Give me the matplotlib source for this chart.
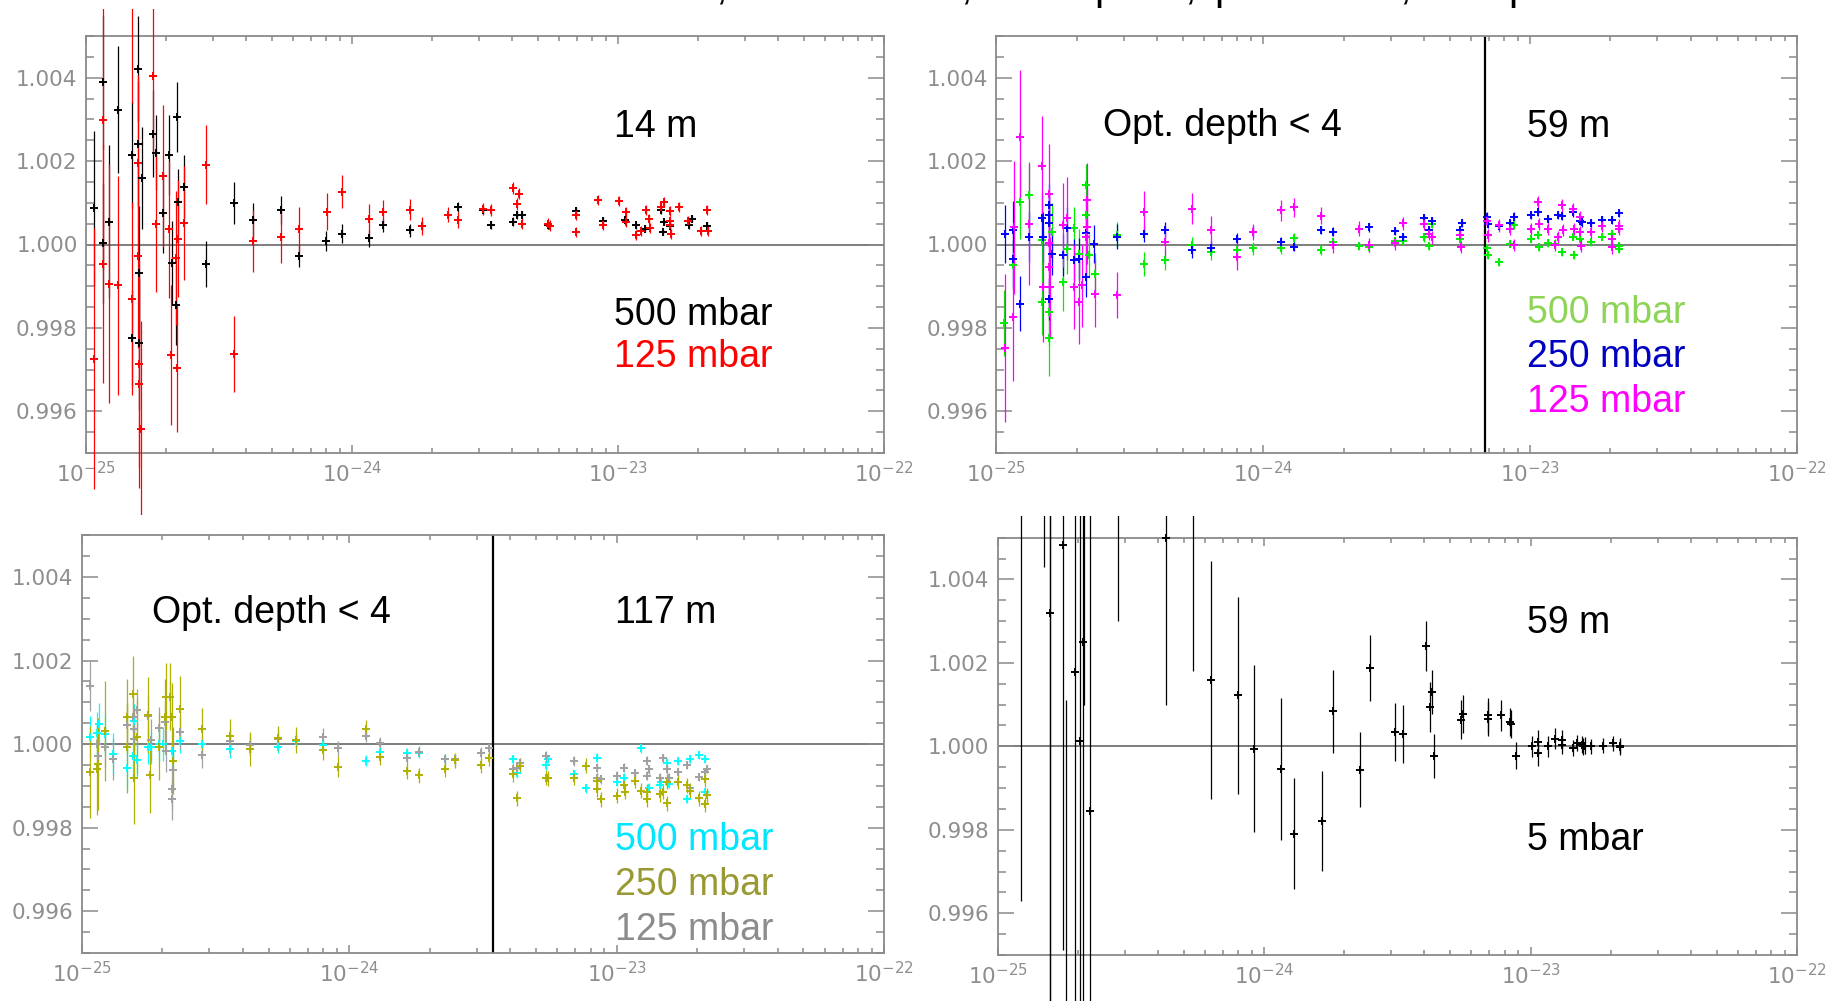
import numpy as np
import matplotlib
matplotlib.use('Agg')
import matplotlib.pyplot as plt
from matplotlib.patches import Rectangle
from matplotlib.ticker import LogLocator, MultipleLocator, FixedLocator, NullFormatter, FuncFormatter

plt.rcParams['font.family'] = ['Liberation Sans', 'DejaVu Sans']
plt.rcParams['mathtext.fontset'] = 'dejavusans'

# ---------------- data: (x, ratio, error) ----------------
p1_500 = [
    (1.075e-25, 1.00087, 0.00186), (1.155e-25, 1.00389, 0.0016), (1.16e-25, 1.00004, 0.00144),
    (1.224e-25, 1.00055, 0.00184), (1.323e-25, 1.00323, 0.00152), (1.485e-25, 1.00215, 0.00128),
    (1.485e-25, 0.99776, 0.00116), (1.564e-25, 1.00421, 0.00126), (1.57e-25, 1.00242, 0.0015),
    (1.586e-25, 0.99932, 0.0016), (1.586e-25, 0.99764, 0.0016), (1.62e-25, 1.00159, 0.00123),
    (1.781e-25, 1.00266, 0.00104), (1.833e-25, 1.0022, 0.0009), (1.953e-25, 1.00076, 0.00096),
    (2.046e-25, 1.00215, 0.00096), (2.10e-25, 0.99956, 0.001), (2.193e-25, 1.00306, 0.00083),
    (2.18e-25, 0.99854, 0.00096), (2.21e-25, 1.00102, 0.0008), (2.335e-25, 1.00139, 0.00076),
    (2.818e-25, 0.99954, 0.00055), (3.59e-25, 1.00099, 0.0005), (4.244e-25, 1.00059, 0.0004),
    (5.41e-25, 1.00083, 0.00034), (6.32e-25, 0.99972, 0.00027), (7.96e-25, 1.00009, 0.00024),
    (9.2e-25, 1.00026, 0.00022), (1.162e-24, 1.00015, 0.0002), (1.304e-24, 1.00046, 0.00015),
    (1.652e-24, 1.00034, 0.00016), (1.838e-24, 1.00044, 0.0001), (2.497e-24, 1.0009, 0.00012),
    (3.117e-24, 1.00082, 0.0001), (3.34e-24, 1.00047, 0.0001), (4.04e-24, 1.00055, 0.0001),
    (4.18e-24, 1.00071, 0.0001), (4.37e-24, 1.00071, 0.0001), (5.47e-24, 1.00047, 0.0001),
    (6.93e-24, 1.00081, 0.0001), (8.76e-24, 1.00056, 0.00009), (1.063e-23, 1.00058, 0.00009),
    (1.165e-23, 1.00046, 0.00009), (1.263e-23, 1.00038, 0.00009), (1.451e-23, 1.00082, 0.00008),
    (1.47e-23, 1.0003, 0.00008), (1.494e-23, 1.00054, 0.00008), (1.569e-23, 1.00045, 0.00008),
    (1.849e-23, 1.00046, 0.00008), (1.892e-23, 1.00062, 0.00008), (2.154e-23, 1.00045, 0.00008),
]
p1_125 = [
    (1.075e-25, 0.99726, 0.00313), (1.155e-25, 1.00299, 0.0036), (1.16e-25, 0.99954, 0.00287),
    (1.224e-25, 0.99906, 0.00286), (1.323e-25, 0.99902, 0.00262), (1.485e-25, 0.9987, 0.00232),
    (1.49e-25, 1.0062, 0.0028), (1.57e-25, 1.00196, 0.0021), (1.564e-25, 0.99972, 0.0022),
    (1.586e-25, 0.99713, 0.0025), (1.586e-25, 0.99665, 0.0025), (1.61e-25, 0.99557, 0.0026),
    (1.781e-25, 1.00403, 0.00187), (1.833e-25, 1.0005, 0.00164), (1.953e-25, 1.00164, 0.0017),
    (2.046e-25, 1.00036, 0.00164), (2.09e-25, 0.99735, 0.00167), (2.18e-25, 0.99968, 0.0016),
    (2.193e-25, 0.99703, 0.00152), (2.21e-25, 1.00014, 0.0014), (2.335e-25, 1.00052, 0.00136),
    (2.818e-25, 1.00191, 0.00095), (3.59e-25, 0.99738, 0.00091), (4.244e-25, 1.00008, 0.00075),
    (5.41e-25, 1.00018, 0.00063), (6.32e-25, 1.00036, 0.00055), (8.05e-25, 1.00079, 0.00045),
    (9.2e-25, 1.00127, 0.0004), (1.162e-24, 1.00061, 0.00036), (1.304e-24, 1.00079, 0.00028),
    (1.652e-24, 1.00083, 0.00025), (1.838e-24, 1.00045, 0.00022), (2.289e-24, 1.00071, 0.00018),
    (2.497e-24, 1.00059, 0.0002), (3.12e-24, 1.00085, 0.00014), (3.34e-24, 1.00083, 0.00014),
    (4.04e-24, 1.00135, 0.00014), (4.24e-24, 1.00122, 0.00014), (4.18e-24, 1.00097, 0.00014),
    (4.37e-24, 1.0005, 0.00014), (5.47e-24, 1.0005, 0.00013), (5.57e-24, 1.00045, 0.00013),
    (6.94e-24, 1.00071, 0.00013), (6.98e-24, 1.0003, 0.00013), (8.44e-24, 1.00107, 0.00012),
    (8.76e-24, 1.00046, 0.00012), (1.009e-23, 1.00105, 0.00012), (1.07e-23, 1.00077, 0.00012),
    (1.075e-23, 1.00053, 0.00012), (1.165e-23, 1.00023, 0.00012), (1.22e-23, 1.00032, 0.00012),
    (1.27e-23, 1.00083, 0.00012), (1.31e-23, 1.00061, 0.00012), (1.315e-23, 1.0004, 0.00012),
    (1.45e-23, 1.00091, 0.00012), (1.494e-23, 1.00101, 0.00012), (1.569e-23, 1.00081, 0.00012),
    (1.57e-23, 1.00057, 0.00012), (1.575e-23, 1.00046, 0.00012), (1.58e-23, 1.00024, 0.00012),
    (1.70e-23, 1.00089, 0.00012), (1.84e-23, 1.00057, 0.00012), (2.046e-23, 1.00033, 0.00012),
    (2.154e-23, 1.00083, 0.00012), (2.18e-23, 1.00033, 0.00012),
]

p2_500 = [
    (1.071e-25, 0.99812, 0.0008), (1.157e-25, 0.9995, 0.0006), (1.226e-25, 1.00103, 0.0009),
    (1.329e-25, 1.00119, 0.0008), (1.486e-25, 1.0001, 0.0007), (1.486e-25, 0.99863, 0.0008),
    (1.574e-25, 0.99837, 0.0008), (1.578e-25, 0.99775, 0.0009), (1.611e-25, 1.00029, 0.0007),
    (1.781e-25, 0.99911, 0.0007), (1.833e-25, 0.99989, 0.0006), (1.959e-25, 1.00039, 0.0005),
    (2.046e-25, 0.99977, 0.0006), (2.167e-25, 1.00143, 0.0005), (2.17e-25, 1.0007, 0.0005),
    (2.223e-25, 0.99974, 0.0005), (2.34e-25, 0.99929, 0.0005), (2.822e-25, 1.00023, 0.0003),
    (3.584e-25, 0.99953, 0.00028), (4.28e-25, 0.99963, 0.00025), (5.39e-25, 0.99998, 0.0002),
    (6.35e-25, 0.99983, 0.0002), (7.95e-25, 0.99987, 0.00015), (9.18e-25, 0.99991, 0.00015),
    (1.162e-24, 0.99991, 0.00013), (1.307e-24, 1.00015, 0.00012), (1.645e-24, 0.99987, 0.00012),
    (1.83e-24, 1.00005, 0.0001), (2.29e-24, 0.99997, 0.0001), (2.489e-24, 0.99993, 0.0001),
    (3.115e-24, 1.00009, 0.0001), (3.33e-24, 1.00009, 0.0001), (4.01e-24, 1.00017, 0.0001),
    (4.19e-24, 0.99997, 0.0001), (4.27e-24, 1.00049, 0.0001), (5.46e-24, 1.00014, 0.0001),
    (6.91e-24, 0.99991, 0.00009), (6.93e-24, 0.99974, 0.00009), (7.66e-24, 0.99958, 0.00009),
    (8.40e-24, 1.00002, 0.00009), (8.72e-24, 1.00046, 0.00009), (1.004e-23, 1.00014, 0.00009),
    (1.073e-23, 1.00022, 0.00009), (1.078e-23, 0.99994, 0.00009), (1.162e-23, 1.00003, 0.00009),
    (1.239e-23, 1.00001, 0.00009), (1.319e-23, 0.99982, 0.00009), (1.451e-23, 1.00019, 0.00009),
    (1.456e-23, 0.99974, 0.00009), (1.537e-23, 1.00013, 0.00009), (1.69e-23, 1.00005, 0.00009),
    (1.853e-23, 1.00019, 0.00009), (2.03e-23, 1.00026, 0.00009), (2.15e-23, 0.99997, 0.00009),
    (2.16e-23, 0.99989, 0.00009),
]
p2_250 = [
    (1.075e-25, 1.00025, 0.0007), (1.15e-25, 0.99965, 0.0007), (1.157e-25, 1.00035, 0.0007),
    (1.226e-25, 0.99858, 0.00066), (1.329e-25, 1.00019, 0.0006), (1.486e-25, 1.00063, 0.0006),
    (1.49e-25, 1.00019, 0.0006), (1.574e-25, 1.00095, 0.0005), (1.576e-25, 1.0007, 0.0005),
    (1.578e-25, 1.00051, 0.0005), (1.58e-25, 0.99869, 0.0005), (1.611e-25, 0.99978, 0.0005),
    (1.781e-25, 0.99975, 0.0005), (1.833e-25, 1.00039, 0.0005), (1.95e-25, 0.99962, 0.0005),
    (2.046e-25, 0.99965, 0.0005), (2.167e-25, 1.00027, 0.0005), (2.17e-25, 0.99923, 0.0005),
    (2.33e-25, 1.00001, 0.00045), (2.822e-25, 1.00019, 0.0003), (3.584e-25, 1.00025, 0.0002),
    (4.28e-25, 1.00035, 0.0002), (5.39e-25, 0.99986, 0.00018), (6.35e-25, 0.99992, 0.00016),
    (7.95e-25, 1.00013, 0.00014), (9.18e-25, 1.00031, 0.00013), (1.162e-24, 1.00007, 0.00012),
    (1.307e-24, 0.99995, 0.00011), (1.645e-24, 1.00034, 0.0001), (1.83e-24, 1.00031, 0.0001),
    (2.489e-24, 1.00041, 0.0001), (3.115e-24, 1.00033, 0.0001), (3.33e-24, 1.00017, 0.0001),
    (4.01e-24, 1.00063, 0.0001), (4.19e-24, 1.00035, 0.0001), (4.27e-24, 1.00057, 0.0001),
    (5.46e-24, 1.00035, 0.0001), (5.55e-24, 1.00051, 0.0001), (6.91e-24, 1.00067, 0.0001),
    (6.93e-24, 1.0005, 0.0001), (7.66e-24, 1.00045, 0.0001), (8.40e-24, 1.00051, 0.0001),
    (8.72e-24, 1.00067, 0.0001), (1.004e-23, 1.0007, 0.0001), (1.073e-23, 1.00078, 0.0001),
    (1.162e-23, 1.00061, 0.0001), (1.275e-23, 1.00071, 0.0001), (1.319e-23, 1.00069, 0.0001),
    (1.451e-23, 1.00077, 0.0001), (1.537e-23, 1.00057, 0.0001), (1.56e-23, 1.00053, 0.0001),
    (1.69e-23, 1.00051, 0.0001), (1.853e-23, 1.00058, 0.0001), (2.03e-23, 1.00059, 0.0001),
    (2.15e-23, 1.00075, 0.0001),
]
p2_125 = [
    (1.075e-25, 0.99752, 0.00178), (1.157e-25, 0.99827, 0.00155), (1.16e-25, 1.00041, 0.0016),
    (1.226e-25, 1.00258, 0.0016), (1.329e-25, 1.00049, 0.00147), (1.486e-25, 1.00188, 0.0012),
    (1.49e-25, 0.99897, 0.0013), (1.574e-25, 1.00122, 0.0012), (1.578e-25, 1.00003, 0.0012),
    (1.58e-25, 0.99945, 0.0012), (1.59e-25, 0.99898, 0.0012), (1.781e-25, 1.00047, 0.001),
    (1.833e-25, 1.00063, 0.001), (1.959e-25, 0.99898, 0.001), (2.046e-25, 0.99862, 0.001),
    (2.09e-25, 0.99902, 0.001), (2.167e-25, 1.00017, 0.0009), (2.18e-25, 1.00106, 0.0009),
    (2.19e-25, 1.00043, 0.0009), (2.34e-25, 0.99882, 0.0008), (2.822e-25, 0.99879, 0.00055),
    (3.584e-25, 1.00077, 0.00052), (4.28e-25, 1.00006, 0.0004), (5.40e-25, 1.00086, 0.00038),
    (6.35e-25, 1.00034, 0.00035), (7.98e-25, 0.99971, 0.00032), (9.18e-25, 1.0003, 0.0002),
    (1.162e-24, 1.00082, 0.00025), (1.307e-24, 1.00089, 0.00022), (1.645e-24, 1.00069, 0.0002),
    (1.83e-24, 0.99998, 0.00018), (2.29e-24, 1.00038, 0.00018), (2.489e-24, 0.99998, 0.00017),
    (3.115e-24, 1.00003, 0.00016), (3.33e-24, 1.00051, 0.00016), (4.01e-24, 1.00049, 0.00015),
    (4.19e-24, 1.00026, 0.00015), (4.27e-24, 1.00017, 0.00015), (5.46e-24, 1.00022, 0.00015),
    (5.50e-24, 0.99994, 0.00015), (6.91e-24, 1.00057, 0.00015), (6.93e-24, 1.00022, 0.00015),
    (7.66e-24, 1.00046, 0.00015), (8.40e-24, 1.00037, 0.00015), (8.72e-24, 0.99999, 0.00015),
    (1.004e-23, 1.00037, 0.00015), (1.073e-23, 1.00101, 0.00015), (1.078e-23, 1.00049, 0.00015),
    (1.162e-23, 1.00037, 0.00015), (1.239e-23, 0.99999, 0.00015), (1.275e-23, 1.00017, 0.00015),
    (1.319e-23, 1.00094, 0.00015), (1.325e-23, 1.00035, 0.00015), (1.451e-23, 1.00085, 0.00015),
    (1.456e-23, 1.00037, 0.00015), (1.537e-23, 1.00065, 0.00015), (1.54e-23, 1.00029, 0.00015),
    (1.545e-23, 0.99997, 0.00015), (1.69e-23, 1.00029, 0.00015), (1.853e-23, 1.00045, 0.00015),
    (2.03e-23, 1.00014, 0.00015), (2.035e-23, 0.99993, 0.00015), (2.15e-23, 1.00045, 0.00015),
    (2.155e-23, 1.00037, 0.00015),
]

p3_500 = [
    (1.074e-25, 1.00018, 0.0005), (1.144e-25, 1.00026, 0.0005), (1.16e-25, 1.00048, 0.0005),
    (1.222e-25, 1.00024, 0.0005), (1.313e-25, 0.99976, 0.0005), (1.473e-25, 0.99942, 0.0005),
    (1.56e-25, 0.99972, 0.0005), (1.565e-25, 1.00056, 0.0004), (1.605e-25, 0.99962, 0.0004),
    (1.775e-25, 0.99992, 0.0004), (1.82e-25, 0.99992, 0.0004), (1.945e-25, 1.0, 0.0004),
    (2.02e-25, 1.0, 0.0004), (2.139e-25, 1.00112, 0.0004), (2.17e-25, 0.99984, 0.0004),
    (2.33e-25, 1.00008, 0.0003), (2.826e-25, 1.0, 0.0002), (3.585e-25, 0.99988, 0.0002),
    (4.26e-25, 0.99998, 0.00018), (5.4e-25, 0.99994, 0.00016), (6.33e-25, 1.00008, 0.00015),
    (8.01e-25, 0.99998, 0.00014), (1.153e-24, 0.9996, 0.00013), (1.305e-24, 0.99982, 0.00012),
    (1.65e-24, 0.99978, 0.00012), (1.83e-24, 0.9998, 0.00012), (2.284e-24, 0.99964, 0.00012),
    (2.488e-24, 0.99964, 0.00011), (4.09e-24, 0.99964, 0.00011), (4.23e-24, 0.9993, 0.00011),
    (5.45e-24, 0.9995, 0.00011), (5.56e-24, 0.99964, 0.0001), (6.95e-24, 0.99928, 0.0001),
    (7.69e-24, 0.99894, 0.0001), (8.43e-24, 0.99968, 0.0001), (1.007e-23, 0.9991, 0.0001),
    (1.069e-23, 0.9992, 0.0001), (1.23e-23, 0.9999, 0.0001), (1.326e-23, 0.99896, 0.0001),
    (1.454e-23, 0.99902, 0.0001), (1.46e-23, 0.9991, 0.0001), (1.548e-23, 0.99956, 0.0001),
    (1.575e-23, 0.99904, 0.0001), (1.702e-23, 0.9996, 0.0001), (1.839e-23, 0.99868, 0.0001),
    (1.882e-23, 0.99964, 0.0001), (2.04e-23, 0.99974, 0.0001), (2.142e-23, 0.99964, 0.0001),
    (2.15e-23, 0.99886, 0.0001),
]
p3_250 = [
    (1.074e-25, 0.99934, 0.0011), (1.144e-25, 0.9994, 0.0011), (1.15e-25, 0.99952, 0.0011),
    (1.222e-25, 1.00032, 0.0012), (1.473e-25, 0.99992, 0.0011), (1.48e-25, 1.00066, 0.0009),
    (1.56e-25, 1.0012, 0.0009), (1.565e-25, 0.99918, 0.0011), (1.605e-25, 1.00018, 0.0009),
    (1.775e-25, 1.0007, 0.0009), (1.80e-25, 0.99926, 0.0009), (1.945e-25, 0.99994, 0.0008),
    (2.05e-25, 1.00066, 0.0009), (2.07e-25, 1.00114, 0.0008), (2.139e-25, 1.00114, 0.0008),
    (2.17e-25, 1.00066, 0.0008), (2.2e-25, 0.9996, 0.0008), (2.33e-25, 1.00084, 0.0008),
    (2.826e-25, 1.00036, 0.0005), (3.585e-25, 1.0002, 0.0004), (4.26e-25, 0.99988, 0.0004),
    (5.405e-25, 1.00014, 0.0003), (6.33e-25, 1.0001, 0.0003), (8.01e-25, 0.99986, 0.00025),
    (9.11e-25, 0.99946, 0.00025), (1.153e-24, 1.00036, 0.00022), (1.305e-24, 0.9997, 0.0002),
    (1.65e-24, 0.99936, 0.0002), (1.83e-24, 0.99926, 0.00018), (2.284e-24, 0.9994, 0.00018),
    (2.488e-24, 0.99962, 0.00018), (3.11e-24, 0.9995, 0.00018), (3.334e-24, 0.99966, 0.00018),
    (4.09e-24, 0.99928, 0.00018), (4.23e-24, 0.9987, 0.00018), (4.35e-24, 0.99948, 0.00018),
    (5.45e-24, 0.9992, 0.00018), (5.56e-24, 0.99918, 0.00018), (6.95e-24, 0.9992, 0.00018),
    (7.69e-24, 0.99948, 0.00018), (8.43e-24, 0.99892, 0.00018), (8.45e-24, 0.99912, 0.00018),
    (8.72e-24, 0.99868, 0.00018), (1.007e-23, 0.99876, 0.00018), (1.069e-23, 0.99902, 0.00018),
    (1.075e-23, 0.99886, 0.00018), (1.172e-23, 0.99912, 0.00018), (1.23e-23, 0.99888, 0.00018),
    (1.296e-23, 0.99886, 0.00018), (1.30e-23, 0.99868, 0.00018), (1.454e-23, 0.9988, 0.00018),
    (1.496e-23, 0.99886, 0.00018), (1.548e-23, 0.99858, 0.00018), (1.55e-23, 0.9991, 0.00018),
    (1.702e-23, 0.9991, 0.00018), (1.839e-23, 0.99902, 0.00018), (1.882e-23, 0.99888, 0.00018),
    (2.04e-23, 0.9987, 0.00018), (2.142e-23, 0.99916, 0.00018), (2.145e-23, 0.99856, 0.00018),
    (2.172e-23, 0.99878, 0.00018),
]
p3_125 = [
    (1.074e-25, 1.0014, 0.0006), (1.144e-25, 1.0, 0.0005), (1.15e-25, 0.99972, 0.0005),
    (1.222e-25, 0.99992, 0.0005), (1.313e-25, 0.99964, 0.0005), (1.473e-25, 1.00046, 0.0005),
    (1.56e-25, 1.00066, 0.0005), (1.565e-25, 1.00036, 0.0005), (1.57e-25, 1.00012, 0.0005),
    (1.605e-25, 1.00082, 0.0005), (1.775e-25, 1.00068, 0.0005), (1.81e-25, 1.0001, 0.0005),
    (1.945e-25, 1.00038, 0.0005), (2.05e-25, 1.00054, 0.0005), (2.07e-25, 0.99984, 0.0005),
    (2.17e-25, 0.99868, 0.0005), (2.175e-25, 0.99892, 0.0005), (2.2e-25, 0.99938, 0.0005),
    (2.33e-25, 1.00028, 0.0004), (2.826e-25, 0.99974, 0.0003), (3.585e-25, 1.00007, 0.0003),
    (4.26e-25, 0.99998, 0.00025), (5.405e-25, 1.00012, 0.00022), (6.33e-25, 1.0001, 0.0002),
    (8.01e-25, 1.00018, 0.0002), (9.11e-25, 0.9999, 0.00018), (1.153e-24, 1.0002, 0.00016),
    (1.305e-24, 1.00002, 0.00015), (1.65e-24, 0.99966, 0.00014), (1.83e-24, 0.99982, 0.00013),
    (2.284e-24, 0.99964, 0.00013), (2.488e-24, 0.99964, 0.00013), (3.11e-24, 0.9998, 0.00012),
    (3.334e-24, 0.9999, 0.00012), (4.09e-24, 0.9994, 0.00012), (4.23e-24, 0.99942, 0.00012),
    (4.35e-24, 0.99956, 0.00012), (5.45e-24, 0.99972, 0.00012), (6.95e-24, 0.9996, 0.00012),
    (8.43e-24, 0.99944, 0.00011), (8.45e-24, 0.9992, 0.00011), (8.72e-24, 0.99916, 0.00011),
    (1.007e-23, 0.99924, 0.00011), (1.069e-23, 0.99944, 0.00011), (1.172e-23, 0.9993, 0.00011),
    (1.296e-23, 0.9996, 0.00011), (1.30e-23, 0.99924, 0.00011), (1.326e-23, 0.9994, 0.00011),
    (1.454e-23, 0.9992, 0.00011), (1.496e-23, 0.99966, 0.00011), (1.548e-23, 0.9994, 0.00011),
    (1.575e-23, 0.9992, 0.0001), (1.702e-23, 0.99934, 0.0001), (1.839e-23, 0.9995, 0.0001),
    (1.882e-23, 0.99894, 0.0001), (2.04e-23, 0.99922, 0.0001), (2.142e-23, 0.99934, 0.0001),
    (2.172e-23, 0.9994, 0.0001),
]

p4_5 = [
    (1.222e-25, 1.0062, 0.0099), (1.496e-25, 1.0075, 0.0032), (1.568e-25, 1.0032, 0.012),
    (1.57e-25, 0.993, 0.013), (1.766e-25, 1.00482, 0.0097), (1.80e-25, 0.9935, 0.0076),
    (1.951e-25, 1.00178, 0.012), (2.046e-25, 1.00012, 0.012), (2.09e-25, 1.0025, 0.012),
    (2.11e-25, 1.006, 0.005), (2.214e-25, 0.99844, 0.012), (2.82e-25, 1.0065, 0.0035),
    (4.28e-25, 1.005, 0.004), (5.41e-25, 1.0058, 0.004), (6.34e-25, 1.00158, 0.00285),
    (7.98e-25, 1.00122, 0.00235), (9.17e-25, 0.99994, 0.002), (1.154e-24, 0.99946, 0.0017),
    (1.3e-24, 0.9979, 0.00133), (1.649e-24, 0.99822, 0.0012), (1.82e-24, 1.00084, 0.001),
    (2.30e-24, 0.99944, 0.0009), (2.49e-24, 1.00188, 0.0008), (3.11e-24, 1.00034, 0.0007),
    (3.33e-24, 1.0003, 0.00069), (4.06e-24, 1.0024, 0.0006), (4.19e-24, 1.00094, 0.0006),
    (4.26e-24, 1.0013, 0.00052), (4.36e-24, 0.99976, 0.00053), (5.46e-24, 1.00064, 0.00047),
    (5.57e-24, 1.00078, 0.00045), (6.93e-24, 1.00074, 0.00043), (6.95e-24, 1.00066, 0.0004),
    (7.72e-24, 1.00074, 0.00037), (8.39e-24, 1.00058, 0.00033), (8.45e-24, 1.00054, 0.00033),
    (8.8e-24, 0.99978, 0.00033), (1.011e-23, 1.0, 0.00025), (1.063e-23, 1.0001, 0.0003),
    (1.065e-23, 0.99984, 0.0003), (1.161e-23, 1.0, 0.00025), (1.232e-23, 1.00018, 0.00025),
    (1.308e-23, 1.00016, 0.00022), (1.31e-23, 1.00004, 0.00022), (1.444e-23, 0.99996, 0.0002),
    (1.49e-23, 1.00008, 0.0002), (1.564e-23, 1.00004, 0.0002), (1.57e-23, 1.0, 0.0002),
    (1.60e-23, 1.00002, 0.0002), (1.692e-23, 1.0, 0.00018), (1.869e-23, 1.00002, 0.00018),
    (2.048e-23, 1.00008, 0.00018), (2.165e-23, 1.00002, 0.00018), (2.17e-23, 0.99998, 0.00018),
]

vline_p2 = 6.8e-24
vline_p3 = 3.46e-24

ytick_vals = [0.996, 0.998, 1.000, 1.002, 1.004]
xtick_vals = [1e-25, 1e-24, 1e-23, 1e-22]
xtick_labels = [r'$10^{-25}$', r'$10^{-24}$', r'$10^{-23}$', r'$10^{-22}$']

# ---------------- figure ----------------
W, H = 1826, 1001
fig = plt.figure(figsize=(W / 100, H / 100), dpi=100)


def px_rect(left, top, right, bottom):
    return [left / W, 1 - bottom / H, (right - left) / W, (bottom - top) / H]


ax1 = fig.add_axes(px_rect(86, 36, 884, 453))
ax2 = fig.add_axes(px_rect(996.4, 36, 1797, 453))
ax3 = fig.add_axes(px_rect(81.7, 535.3, 884, 953))
ax4 = fig.add_axes(px_rect(997.6, 537.7, 1797, 955))

TICK_GRAY = '#8a8a8a'
LABEL_GRAY = '#8e8e8e'


def style(ax):
    ax.set_xscale('log')
    ax.set_xlim(1e-25, 1e-22)
    ax.set_ylim(0.995, 1.005)
    ax.yaxis.set_major_locator(FixedLocator(ytick_vals))
    ax.yaxis.set_minor_locator(MultipleLocator(0.0005))
    ax.yaxis.set_major_formatter(FuncFormatter(lambda v, p: f'{v:.3f}'))
    ax.xaxis.set_major_locator(FixedLocator(xtick_vals))
    ax.xaxis.set_minor_locator(LogLocator(base=10, subs=np.arange(2, 10)))
    ax.xaxis.set_minor_formatter(NullFormatter())
    ax.set_xticklabels(xtick_labels)
    ax.tick_params(which='both', direction='in', top=True, right=True,
                   color=TICK_GRAY, width=1.1)
    ax.tick_params(axis='y', which='major', length=11.5, labelsize=15.5,
                   labelcolor=LABEL_GRAY, pad=6)
    ax.tick_params(axis='y', which='minor', length=6)
    ax.tick_params(axis='x', which='major', length=6, labelsize=15.5,
                   labelcolor=LABEL_GRAY, pad=6)
    ax.tick_params(axis='x', which='minor', length=3.5)
    for lab in ax.get_yticklabels() + ax.get_xticklabels():
        lab.set_fontfamily('DejaVu Sans')
    for s in ax.spines.values():
        s.set_color(TICK_GRAY)
        s.set_linewidth(1.3)
    ax.axhline(1.0, color='#5a5a5a', lw=1.1, zorder=1)


def clip_rect(top_px, bottom_px):
    return Rectangle((0, 1 - bottom_px / H), 1, (bottom_px - top_px) / H,
                     transform=fig.transFigure)


def series(ax, data, color, crect, ecolor=None):
    x = [d[0] for d in data]
    y = [d[1] for d in data]
    e = [d[2] for d in data]
    c = ax.errorbar(x, y, yerr=e, fmt='+', color=color, ecolor=ecolor or color,
                    ms=6, mew=1.4, elinewidth=0.9, capsize=0, zorder=3)
    for a in [c.lines[0]] + list(c.lines[2]):
        a.set_clip_path(crect)


for ax in (ax1, ax2, ax3, ax4):
    style(ax)

top_clip = clip_rect(9, 515)
bot_clip = clip_rect(515.7, 1001)

# Panel 1
series(ax1, p1_500, 'black', top_clip)
series(ax1, p1_125, '#ff0000', top_clip)
# Panel 2
series(ax2, p2_500, '#00ee00', top_clip)
series(ax2, p2_250, '#0000ff', top_clip)
series(ax2, p2_125, '#ff00ff', top_clip)
ax2.axvline(vline_p2, color='black', lw=1.6, zorder=2)
# Panel 3
series(ax3, p3_500, '#00ffff', bot_clip)
series(ax3, p3_125, '#a0a0a0', bot_clip)
series(ax3, p3_250, '#b0b000', bot_clip)
ax3.axvline(vline_p3, color='black', lw=1.6, zorder=2)
# Panel 4
series(ax4, p4_5, 'black', bot_clip)

FS = 27
def label(ax, fx, fy, s, color='black'):
    ax.text(fx, fy, s, transform=ax.transAxes, fontsize=FS, color=color,
            ha='left', va='baseline', zorder=5)

label(ax1, 0.6617, 0.7578, '14 m')
label(ax1, 0.6617, 0.3070, '500 mbar')
label(ax1, 0.6617, 0.2062, '125 mbar', '#ff0000')

label(ax2, 0.1327, 0.7602, 'Opt. depth < 4')
label(ax2, 0.6625, 0.7578, '59 m')
label(ax2, 0.6625, 0.3118, '500 mbar', '#8ed456')
label(ax2, 0.6625, 0.2062, '250 mbar', '#0000c0')
label(ax2, 0.6625, 0.0990, '125 mbar', '#ff00ff')

label(ax3, 0.0872, 0.7893, 'Opt. depth < 4')
label(ax3, 0.6653, 0.7893, '117 m')
label(ax3, 0.6653, 0.2466, '500 mbar', '#00e6ff')
label(ax3, 0.6653, 0.1389, '250 mbar', '#999933')
label(ax3, 0.6653, 0.0311, '125 mbar', '#8c8c8c')

label(ax4, 0.662, 0.7724, '59 m')
label(ax4, 0.662, 0.2516, '5 mbar')

# Cut-off title: only descenders of commas and p's are visible at the top edge
title_marks = [(721, ','), (966, ','), (1094, 'p'), (1190, ','), (1214, 'p'), (1405, ','), (1508, 'p')]
for xp, ch in title_marks:
    fig.text(xp / W, 1 + 1.0 / H, ch, fontsize=30, color='black',
             ha='center' if ch == ',' else 'left', va='baseline')

fig.savefig('out.png', dpi=100)
